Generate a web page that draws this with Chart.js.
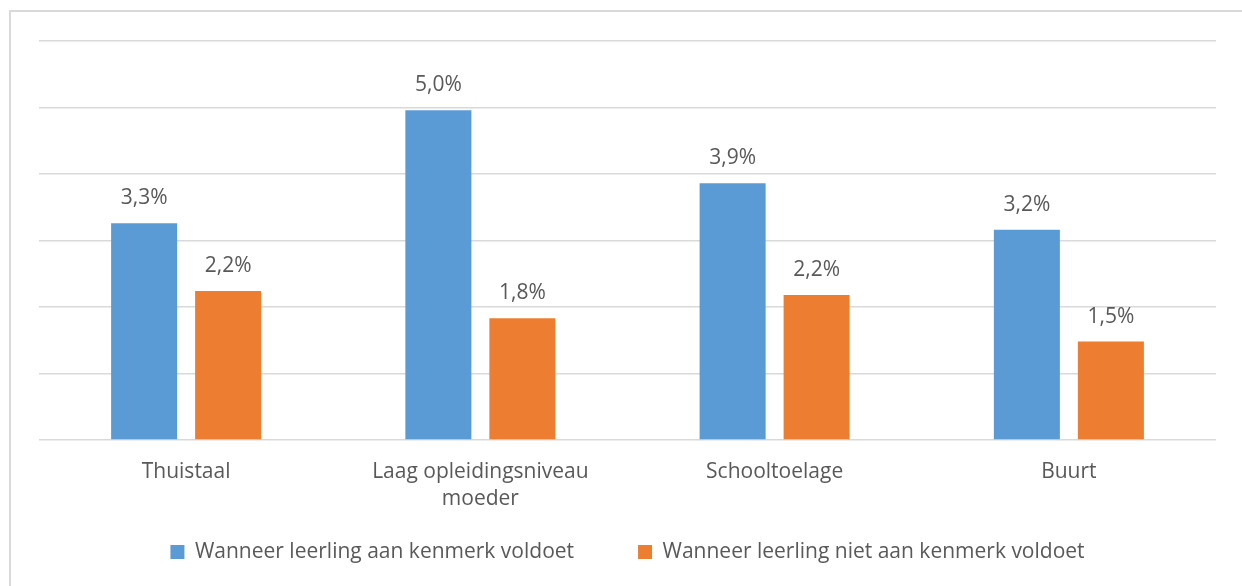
<!DOCTYPE html>
<html>
<head>
<meta charset="utf-8">
<script src="https://cdn.jsdelivr.net/npm/chart.js@4/dist/chart.umd.min.js"></script>
<style>
  html, body { margin: 0; padding: 0; background: #fff; overflow: hidden; }
  #frame { position: absolute; left: 9px; top: 10px; width: 1300px; height: 700px;
           border-top: 2px solid #d9d9d9; border-left: 2px solid #d9d9d9; }
  #wrap { position: absolute; left: 0; top: 0; width: 1242px; height: 586px; }
</style>
</head>
<body>
<div id="frame"></div>
<div id="wrap"><canvas id="chart1"></canvas></div>
<script>
const categories = ['Thuistaal', ['Laag opleidingsniveau', 'moeder'], 'Schooltoelage', 'Buurt'];
const seriesNames = ['Wanneer leerling aan kenmerk voldoet', 'Wanneer leerling niet aan kenmerk voldoet'];
const valuesMet = [3.26, 4.96, 3.86, 3.16];
const valuesNotMet = [2.24, 1.83, 2.18, 1.48];
const yTicks = [0, 1, 2, 3, 4, 5, 6];

const textColor = '#595959';
const fontFamily = '"Open Sans", sans-serif';

// value labels above the bars ("3,3%") and the category labels under the axis
const barLabels = {
  id: 'barLabels',
  afterDatasetsDraw(chart) {
    const ctx = chart.ctx;
    ctx.save();
    ctx.font = '21px ' + fontFamily;
    ctx.fillStyle = textColor;
    ctx.textAlign = 'center';
    ctx.textBaseline = 'middle';
    chart.data.datasets.forEach((ds, i) => {
      chart.getDatasetMeta(i).data.forEach((bar, j) => {
        const txt = ds.data[j].toFixed(1).replace('.', ',') + '%';
        ctx.fillText(txt, bar.x, bar.y - 25);
      });
    });
    const xs = chart.scales.x;
    const base = chart.chartArea.bottom;
    chart.data.labels.forEach((lab, i) => {
      const lines = Array.isArray(lab) ? lab : [lab];
      lines.forEach((ln, k) => {
        ctx.fillText(ln, xs.getPixelForTick(i), base + 32 + k * 27);
      });
    });
    ctx.restore();
  }
};

const data1 = {
  labels: categories,
  datasets: [
    {
      label: seriesNames[0],
      data: valuesMet,
      backgroundColor: '#5b9bd5',
      barPercentage: 0.786,
      categoryPercentage: 0.571
    },
    {
      label: seriesNames[1],
      data: valuesNotMet,
      backgroundColor: '#ed7d31',
      barPercentage: 0.786,
      categoryPercentage: 0.571
    }
  ]
};

const config1 = {
  type: 'bar',
  data: data1,
  options: {
    responsive: true,
    maintainAspectRatio: false,
    animation: false,
    layout: { padding: { left: 39, right: 26, top: 41, bottom: 13.5 } },
    plugins: {
      legend: {
        position: 'bottom',
        labels: {
          boxWidth: 14,
          boxHeight: 14,
          padding: 64,
          color: textColor,
          font: { family: fontFamily, size: 21 }
        }
      },
      tooltip: { enabled: false }
    },
    scales: {
      x: {
        grid: { display: false },
        border: { display: false },
        ticks: { display: false },
        afterFit: axis => { axis.height = 37.5; }
      },
      y: {
        min: yTicks[0],
        max: yTicks[yTicks.length - 1],
        afterBuildTicks: axis => { axis.ticks = yTicks.map(v => ({ value: v })); },
        grid: { color: '#d9d9d9', lineWidth: 1.5, drawTicks: false },
        border: { display: false },
        ticks: { display: false }
      }
    }
  },
  plugins: [barLabels]
};

const myChart1 = new Chart(document.getElementById('chart1').getContext('2d'), config1);
</script>
</body>
</html>
